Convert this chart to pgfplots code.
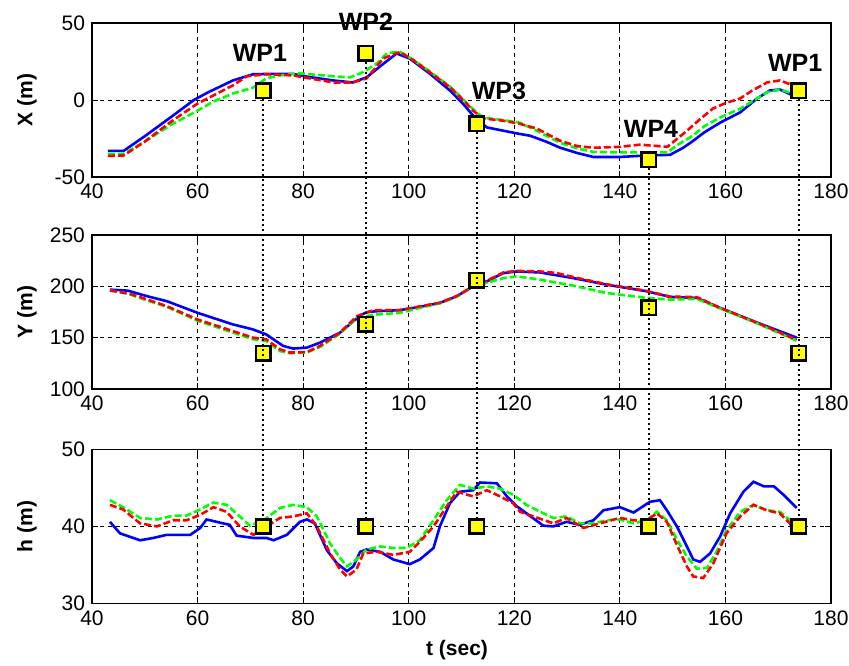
\documentclass[border=0pt]{standalone}
\usepackage{fontspec}
\setmainfont{Liberation Sans}
\usepackage{pgfplots}
\pgfplotsset{compat=1.18}
\definecolor{mblue}{RGB}{0,0,255}
\definecolor{mgreen}{RGB}{0,255,0}
\definecolor{mred}{RGB}{255,0,0}
\definecolor{myellow}{RGB}{255,255,0}
\tikzset{wpl/.style={font=\fontsize{12.5}{14}\selectfont\bfseries}}
\pgfplotsset{
  mystyle/.style={
    scale only axis, width=369.5pt, height=77pt,
    xmin=40, xmax=180, xtick={40,60,...,180},
    grid=major, major grid style={black, line width=0.5pt, dash pattern=on 2pt off 2pt},
    axis line style={line width=0.6pt},
    tick style={black, line width=0.5pt}, major tick length=3pt,
    ticklabel style={font=\fontsize{10.5}{12}\selectfont},
    /pgf/number format/assume math mode=true,
    label style={font=\fontsize{10.5}{12}\selectfont\bfseries},
    ylabel style={at={(axis description cs:-0.088,0.5)}, anchor=center},
    clip=false,
  },
  blu/.style={color=mblue, line width=1.3pt, solid},
  grn/.style={color=mgreen, line width=1.3pt, dash pattern=on 3.5pt off 1.5pt},
  rd/.style={color=mred, line width=1.3pt, dash pattern=on 3.5pt off 1.5pt},
  wp/.style={only marks, mark=square*, mark size=3.6pt, mark options={fill=myellow, draw=black, line width=1.3pt, solid}},
}
\begin{document}
\begin{tikzpicture}
\path[use as bounding box] (0,0) rectangle (424.5pt,-332.5pt);
% ---------------- X ----------------
\begin{axis}[mystyle, at={(46pt,-11.5pt)}, anchor=north west,
  ymin=-50, ymax=50, ytick={-50,0,50}, ylabel={X (m)}]
\addplot[blu] coordinates {
(43,-33) (46,-33) (50,-23.5) (55,-11) (59.3,0) (62,5) (66.7,12.7) (70.5,16.7) (74,17) (78,17)
(81,15) (85.7,12.7) (89.4,11.4) (92,14.7) (95,23) (97.7,30.2) (100.2,26.9) (104,17.1) (107.8,6.2)
(110.3,-2.5) (112.2,-10.1) (114.8,-17.8) (118,-20) (121,-22) (123,-23.2) (126,-27) (128.7,-31)
(132,-34.5) (135,-37) (140,-37) (145,-36) (149.5,-35.6) (152,-31) (153.9,-26.5) (156,-21)
(159,-14.7) (162.8,-8) (166,1) (168.4,6.2) (170.3,6.8) (172.8,3) (173.5,3)};
\addplot[grn] coordinates {
(43,-35) (46,-35) (50,-27) (55,-16) (60,-6.9) (63,-1) (66.7,4.2) (70.5,8) (73,14) (75.6,16)
(79.4,17.3) (82,16.5) (85.7,15.4) (88.9,14.7) (91.3,18) (94,23.8) (95.9,30.4) (98.3,31.5)
(100.9,26) (104,18.5) (107.8,8.8) (110.3,0.5) (112.2,-6) (114.1,-11.5) (117.9,-13) (121,-14.7)
(124.3,-20) (128.7,-27.8) (132,-31.5) (135,-33.7) (140,-34) (143.8,-34) (149,-34) (151,-29)
(153.9,-23) (156,-17) (159,-11.4) (162.8,-5.6) (165,-1) (167.9,5) (170.3,6.8) (172.8,4.2) (173.5,4)};
\addplot[rd] coordinates {
(43,-36.3) (46,-36) (50,-27) (55,-14) (60,-2.3) (63,3) (66.7,9.5) (69.3,15.4) (73,16.7) (78,16)
(81.3,14) (85.7,11.4) (89.4,11.4) (92,14) (95.2,27) (98.3,31.2) (100.9,25.8) (104,18) (107.8,8.4)
(110.3,0) (112.2,-6.9) (114.1,-12) (117.9,-13.4) (121,-15.4) (124.3,-18.6) (128.7,-26.5) (132,-30)
(135,-31) (140,-30.4) (143.8,-29) (149,-30.4) (152.7,-20) (155,-13) (157.6,-5.6) (160,-2)
(162.8,1) (165,6) (167.9,11.4) (170.3,12.7) (172.8,9.5) (173.5,9)};
\addplot[wp] coordinates {(72.4,6) (91.9,30.4) (112.9,-15.4) (145.5,-38.9) (173.9,6)};
\coordinate (T1) at (axis cs:72.4,6);
\coordinate (T2) at (axis cs:91.9,30.4);
\coordinate (T3) at (axis cs:112.9,-15.4);
\coordinate (T4) at (axis cs:145.5,-38.9);
\coordinate (T5) at (axis cs:173.9,6);
\node[wpl] at (axis cs:71.8,30.4) {WP1};
\node[wpl] at (axis cs:91.9,50.7) {WP2};
\node[wpl] at (axis cs:117.1,5.6) {WP3};
\node[wpl] at (axis cs:145.9,-18.6) {WP4};
\node[wpl] at (axis cs:173.2,23.9) {WP1};
\end{axis}
% ---------------- Y ----------------
\begin{axis}[mystyle, at={(46pt,-117.5pt)}, anchor=north west,
  ymin=100, ymax=250, ytick={100,150,200,250}, ylabel={Y (m)}]
\addplot[blu] coordinates {
(43.4,196.8) (46.8,195.8) (50,191) (54.2,185.5) (60,174.2) (66.7,162.9) (70.5,158) (73,153.2)
(76.2,142) (78.1,139.4) (80.7,140.3) (83.2,145.2) (87,154.9) (90.8,171.6) (92,174.8) (94,175.8)
(98.3,176.8) (102.1,180) (105.9,183.9) (109.1,190.3) (112.2,200) (114.8,204.8) (117.9,212.9)
(120.5,214.5) (124.9,213.5) (131.2,208) (137.5,201.6) (145.1,195.2) (149.5,189.7) (154.6,188.7)
(159,179) (165.3,166.1) (173.5,150)};
\addplot[grn] coordinates {
(43.4,196) (47,192.5) (50,187) (54.2,180) (60,166.5) (66.7,155) (70.5,148.5) (73,146.8)
(75.6,137) (77.5,134.8) (80.7,135.5) (83.2,141) (87,154) (90.2,169.5) (94,172.6) (98.3,174.2)
(102.1,179) (105.9,183.5) (109.1,190) (112.2,199.5) (114.8,203.5) (117.9,208) (120.5,209.7)
(124.9,206.5) (131.2,200.6) (137.5,193.5) (145.1,188.7) (149.5,187.1) (154.6,187.8) (159,178.5)
(165.3,165.5) (173.5,147)};
\addplot[rd] coordinates {
(43.4,196) (47,193) (50,188) (54.2,180.6) (60,167.7) (66.7,156.4) (70.5,150) (73,148.4)
(75.6,138.7) (77.5,135.5) (80.7,136) (83.2,142) (87,155) (90.2,171) (93.3,176.8) (98.3,176.8)
(102.1,180.5) (105.9,184) (109.1,190.5) (112.2,200) (114.8,205.5) (117.9,213.5) (120.5,215)
(124.9,214.5) (128,213) (131.2,209) (137.5,202) (145.1,195.5) (149.5,190) (154.6,189.5)
(159,179) (165.3,166) (173.5,148)};
\addplot[wp] coordinates {(72.4,135) (91.9,163) (112.9,206) (145.5,179) (173.9,135)};
\end{axis}
% ---------------- h ----------------
\begin{axis}[mystyle, at={(46pt,-224.7pt)}, anchor=north west,
  ymin=30, ymax=50, ytick={30,40,50}, ylabel={h (m)}, xlabel={t (sec)},
  xlabel style={at={(axis description cs:0.494,0)}, anchor=center, yshift=-23.5pt}]
\addplot[blu] coordinates {
(43.4,40.6) (45.3,39.1) (49.1,38.2) (51.6,38.5) (54.1,38.9) (56.7,38.9) (58.6,38.9) (60.5,39.8)
(61.7,40.9) (64.2,40.5) (66.1,40.2) (67.4,38.8) (70.6,38.5) (73.1,38.5) (74.4,38.2) (76.9,38.9)
(79.4,40.6) (80.7,40.9) (82.2,40.4) (84.5,36.9) (86.4,35.2) (88.3,34.2) (89.5,34.8) (90.8,36.7)
(92,37) (94.6,36.7) (97.1,35.7) (100.2,35.1) (102.1,35.7) (104.7,37.2) (105.9,40) (107.8,43)
(109.7,44.5) (112.2,44.7) (113.5,45.7) (116.7,45.6) (118.6,43.9) (120.5,42.6) (122.3,41.7)
(125.5,40.1) (127.4,40) (129.9,40.6) (132.4,40.2) (135,40.8) (136.9,42.1) (140,42.5)
(142.6,41.8) (145.7,43.2) (147.6,43.4) (148.9,42.1) (150.8,40) (152.7,37.4) (153.9,35.7)
(155.2,35.4) (157.1,36.5) (159,38.7) (160.9,41.7) (163.4,44.5) (165.3,45.8) (167.3,45.2)
(169.2,45.2) (171,44.1) (173.5,42.4)};
\addplot[grn] coordinates {
(43.4,43.4) (45.9,42.5) (49.1,41.1) (52.3,40.9) (55.4,41.4) (57.9,41.4) (60.5,42.2) (63,43.1)
(65.5,42.8) (68,41.3) (69.9,40.1) (72.5,40.8) (75.6,42.4) (78.1,42.8) (80.7,42.5) (82.6,41.3)
(85.1,37.8) (87,35.9) (88.3,34.8) (90.1,35.7) (92,37) (94.6,37.4) (97.1,37.2) (99.6,37.2)
(102.1,38.2) (104.7,40.8) (107.2,43.4) (109.7,45.4) (112.2,44.9) (114.8,45.2) (117.3,44.9)
(119.8,44.1) (122.3,42.8) (124.9,41.9) (127.4,41.1) (129.9,41.3) (132.4,40.4) (135,40.4)
(137.5,40.8) (140,40.9) (142.6,40.4) (145.1,40.8) (147,41.9) (148.9,40.8) (150.8,38.3)
(152.7,36.1) (154.6,34.5) (156.5,34.6) (158.3,36.7) (160.2,39.5) (162.8,41.9) (165.3,42.8)
(167.8,42.1) (170.3,41.9) (172.2,40.8) (173.5,39.8)};
\addplot[rd] coordinates {
(43.4,42.8) (45.9,42.2) (49.1,40.4) (52.3,40) (55.4,40.8) (57.9,40.8) (60.5,41.5) (63,42.5)
(65.5,41.9) (68,40) (70.6,38.9) (73.1,40) (75.6,41.1) (78.1,41.3) (80.7,41.7) (82.6,40)
(85.1,36.5) (87,34.4) (88.3,33.5) (90.1,34.4) (91.4,36.5) (94,36.7) (97.1,36.3) (100.2,36.7)
(102.1,38) (104.7,40) (107.2,42.6) (109.1,44.5) (112.2,43.9) (114.8,44.7) (117.3,43.9)
(119.8,43) (121.1,41.9) (123.6,41.3) (127.4,40.4) (129.9,41.1) (133.1,39.8) (136.2,40.4)
(140,41.1) (142.6,40.8) (145.1,40.8) (147,41.7) (148.9,40.6) (150.8,37.6) (152.7,34.8)
(153.9,33.5) (155.8,33.3) (157.7,35.2) (160.2,39.1) (162.8,41.3) (165.3,42.8) (167.8,42.1)
(170.3,41.7) (172.2,40.4) (173.5,38.9)};
\addplot[wp] coordinates {(72.4,40) (91.9,40) (112.9,40) (145.5,40) (173.9,40)};
\coordinate (B1) at (axis cs:72.4,40);
\coordinate (B2) at (axis cs:91.9,40);
\coordinate (B3) at (axis cs:112.9,40);
\coordinate (B4) at (axis cs:145.5,40);
\coordinate (B5) at (axis cs:173.9,40);
\end{axis}
\foreach \i in {1,...,5}{
  \draw[black, line width=1pt, dash pattern=on 1pt off 1.5pt, shorten <=4.2pt, shorten >=4.2pt] (T\i) -- (B\i);
}
\end{tikzpicture}
\end{document}
